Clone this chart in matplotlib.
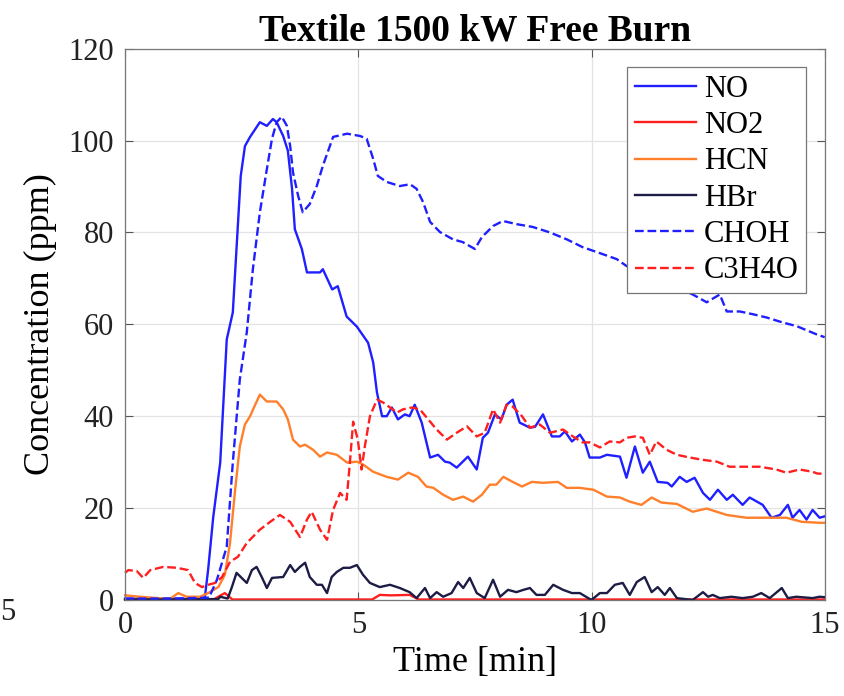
import matplotlib
matplotlib.use("Agg")
import matplotlib.pyplot as plt

plt.rcParams['font.family'] = ['Liberation Serif', 'DejaVu Serif']

# gas concentrations (ppm) vs time (min)
t_no = [0, 0.5, 1.0, 1.5, 1.71, 1.78, 1.89, 2.04, 2.18, 2.31, 2.48, 2.57, 2.68, 2.89, 3.04, 3.17, 3.25,
        3.39, 3.49, 3.58, 3.64, 3.79, 3.9, 4.18, 4.24, 4.44, 4.56, 4.75, 4.97, 5.21, 5.32, 5.4, 5.51,
        5.61, 5.72, 5.85, 6.0, 6.1, 6.21, 6.36, 6.54, 6.71, 6.86, 6.96, 7.11, 7.35, 7.54, 7.67, 7.78,
        7.93, 8.07, 8.18, 8.31, 8.46, 8.68, 8.79, 8.96, 9.15, 9.32, 9.43, 9.58, 9.75, 9.86, 9.96,
        10.18, 10.33, 10.61, 10.75, 10.93, 11.1, 11.25, 11.42, 11.63, 11.72, 11.89, 12.04, 12.21,
        12.39, 12.54, 12.71, 12.9, 13.03, 13.24, 13.39, 13.67, 13.86, 14.04, 14.21, 14.31, 14.46,
        14.61, 14.74, 14.89, 15.0]
no = [0.3, 0.2, 0.3, 0.2, 0.5, 6.5, 18.0, 29.9, 56.7, 62.6, 92.3, 98.8, 100.8, 104.0, 103.2, 104.7, 104.0,
      101.0, 97.8, 89.5, 80.7, 76.4, 71.3, 71.3, 72.0, 67.6, 68.3, 61.7, 59.5, 56.0, 51.7, 45.2, 40.0,
      40.0, 41.9, 39.3, 40.4, 40.0, 42.5, 38.6, 31.0, 31.6, 30.1, 29.9, 28.8, 31.2, 28.4, 35.3, 36.4,
      40.4, 39.3, 42.5, 43.6, 38.6, 37.5, 37.7, 40.4, 35.6, 35.6, 36.7, 34.5, 36.0, 34.3, 31.0,
      31.0, 31.6, 31.2, 26.6, 33.4, 27.7, 30.1, 25.7, 25.5, 24.7, 26.8, 25.7, 26.6,
      23.3, 21.8, 24.0, 21.8, 22.9, 20.7, 22.3, 20.7, 17.9, 18.5, 20.7, 17.9, 19.6,
      17.5, 19.6, 17.9, 18.2]

t_no2 = [0, 1.9, 2.05, 2.14, 2.3, 5.3, 5.46, 5.7, 6.1, 6.3, 15.0]
no2 = [0.1, 0.1, 1.0, 1.5, 0.1, 0.1, 1.1, 1.0, 1.1, 0.1, 0.1]

t_hcn = [0, 0.32, 0.96, 1.14, 1.32, 1.61, 1.78, 2.0, 2.14, 2.25, 2.36, 2.46, 2.57, 2.68, 2.79, 2.89,
         3.04, 3.25, 3.39, 3.49, 3.6, 3.75, 3.86, 4.03, 4.18, 4.33, 4.54, 4.76, 4.97, 5.1, 5.32, 5.61,
         5.85, 6.07, 6.28, 6.46, 6.61, 6.82, 7.03, 7.25, 7.46, 7.65, 7.82, 7.96, 8.11, 8.31, 8.51,
         8.72, 8.96, 9.28, 9.47, 9.75, 10.04, 10.33, 10.61, 10.82, 11.07, 11.29, 11.5, 11.83, 12.17,
         12.47, 12.9, 13.32, 13.82, 14.18, 14.51, 14.89, 15.0]
hcn = [1.0, 0.7, 0.2, 1.5, 0.7, 0.7, 1.5, 2.8, 5.5, 12.4, 24.0, 33.4, 38.2, 40.0, 42.5, 44.7,
       43.2, 43.2, 41.5, 39.3, 34.9, 33.4, 33.8, 32.7, 31.2, 32.1, 31.6, 29.9, 30.1, 29.5, 27.9, 26.8,
       26.2, 27.7, 26.8, 24.7, 24.4, 22.9, 21.8, 22.5, 21.4, 22.9, 25.1, 25.1, 26.8, 25.7, 24.7,
       25.7, 25.5, 25.7, 24.4, 24.4, 24.0, 22.5, 22.3, 21.4, 20.7, 22.3, 21.2, 20.9, 19.2,
       19.9, 18.5, 17.9, 17.9, 17.9, 17.0, 16.8, 16.8]

t_hbr = [0, 1.0, 2.0, 2.04, 2.2, 2.29, 2.39, 2.5, 2.61, 2.72, 2.82, 2.93, 3.04, 3.15, 3.39, 3.54,
         3.64, 3.75, 3.86, 3.96, 4.11, 4.22, 4.33, 4.43, 4.54, 4.68, 4.82, 4.97, 5.1, 5.25, 5.46,
         5.68, 5.89, 6.1, 6.25, 6.43, 6.54, 6.68, 6.82, 7.0, 7.14, 7.25, 7.39, 7.54, 7.71, 7.89,
         8.04, 8.21, 8.39, 8.54, 8.68, 8.82, 9.0, 9.18, 9.39, 9.58, 9.75, 9.93, 10.0, 10.18, 10.33,
         10.5, 10.67, 10.82, 10.97, 11.14, 11.29, 11.42, 11.57, 11.68, 11.83, 12.17, 12.39, 12.5,
         12.6, 12.75, 13.0, 13.24, 13.46, 13.64, 13.82, 14.08, 14.21, 14.39, 14.74, 14.89, 15.0]
hbr = [0.1, 0.1, 0.2, 0.7, 0.3, 2.8, 5.9, 4.8, 3.7, 6.5, 7.2, 5.0, 2.6, 4.8, 5.0, 7.6,
       6.1, 7.2, 8.1, 5.0, 3.3, 3.3, 1.5, 5.0, 6.1, 7.0, 7.0, 7.6, 5.5, 3.7, 2.8,
       3.3, 2.6, 1.7, 0.4, 2.6, 0.4, 1.7, 0.7, 1.5, 3.9, 2.6, 4.8, 1.5, 0.4, 4.4,
       0.7, 2.2, 1.7, 2.2, 2.6, 1.1, 1.1, 3.3, 2.2, 1.5, 1.5, 0.4, 0.0, 1.5, 1.5,
       3.3, 3.7, 1.1, 3.9, 5.0, 1.7, 2.8, 1.1, 2.6, 0.4, 0.0, 1.7, 0.7,
       1.1, 0.4, 0.7, 0.4, 0.7, 1.5, 0.4, 2.6, 0.4, 0.7, 0.4, 0.7, 0.6]

t_choh = [0, 1.0, 1.8, 1.97, 2.18, 2.31, 2.46, 2.61, 2.74, 2.89, 3.04, 3.15, 3.25, 3.36, 3.47, 3.54,
          3.6, 3.71, 3.81, 3.96, 4.11, 4.24, 4.46, 4.76, 5.04, 5.18, 5.32, 5.42, 5.61, 5.89, 6.11,
          6.25, 6.39, 6.54, 6.75, 7.03, 7.24, 7.5, 7.65, 7.89, 8.1, 8.4, 8.74, 9.11, 9.47, 9.81,
          10.18, 10.54, 10.75, 11.2, 11.7, 12.17, 12.47, 12.75, 12.9, 13.18, 13.46, 13.75, 14.1,
          14.4, 14.83, 15.0]
choh = [0.3, 0.3, 0.5, 4.4, 11.6, 29.9, 48.0, 58.3, 72.0, 84.4, 93.8, 100.4, 104.0, 105.2, 103.2, 98.8,
        93.1, 88.0, 84.4, 86.2, 90.1, 94.5, 100.8, 101.5, 101.0, 100.4, 96.0, 92.3, 91.0, 90.1, 90.5,
        89.5, 86.6, 82.3, 80.1, 78.5, 77.9, 76.4, 79.0, 81.4, 82.5, 81.8, 81.2, 80.0, 78.5, 76.8,
        75.5, 74.2, 72.7, 71.0, 68.5, 66.5, 64.8, 66.5, 62.8, 62.8, 62.2, 61.5, 60.4,
        59.6, 57.8, 57.2]

t_c3h4o = [0, 0.07, 0.25, 0.39, 0.54, 0.82, 1.11, 1.35, 1.5, 1.65, 1.78, 1.93, 2.08, 2.25, 2.42, 2.61,
           2.89, 3.11, 3.32, 3.54, 3.75, 3.9, 4.0, 4.18, 4.33, 4.46, 4.61, 4.75, 4.82, 4.89, 4.99,
           5.07, 5.14, 5.25, 5.4, 5.53, 5.68, 5.83, 5.96, 6.15, 6.32, 6.5, 6.68, 6.9, 7.11, 7.33,
           7.54, 7.71, 7.89, 8.04, 8.18, 8.31, 8.51, 8.68, 8.89, 9.11, 9.39, 9.6, 9.81, 9.96, 10.18,
           10.39, 10.61, 10.75, 10.93, 11.1, 11.25, 11.39, 11.61, 11.83, 12.11, 12.39, 12.69, 12.96,
           13.24, 13.61, 13.96, 14.18, 14.46, 14.74, 14.85, 15.0]
c3h4o = [5.9, 6.5, 6.3, 4.8, 6.5, 7.2, 7.0, 6.5, 3.7, 2.8, 3.3, 3.7, 5.0, 8.3, 9.4, 12.4,
         15.3, 17.0, 18.5, 17.0, 13.7, 17.5, 19.2, 15.3, 13.1, 19.6, 23.3, 21.8, 29.9, 38.8, 34.9,
         28.4, 33.4, 40.0, 43.6, 43.0, 41.9, 40.8, 41.5, 41.9, 41.5, 39.3, 37.1, 34.9, 36.4, 37.8,
         35.6, 36.4, 41.5, 38.6, 42.5, 42.1, 40.0, 37.5, 38.2, 36.4, 37.1, 35.6, 34.3, 34.3, 33.2,
         34.5, 34.3, 35.3, 35.6, 35.3, 31.6, 34.5, 32.7, 31.6, 31.0, 30.5, 30.1, 29.0,
         29.0, 29.0, 28.4, 27.7, 28.4, 27.9, 27.5, 27.5]

x_ticks = [0, 5, 10, 15]
y_ticks = [0, 20, 40, 60, 80, 100, 120]

fig = plt.figure(figsize=(8.45, 6.96), dpi=100)
ax = fig.add_axes([0.148, 0.138, 0.828, 0.792])

lw = 1.7
ax.plot(t_no, no, color='#1f1fff', lw=lw, label='NO', clip_on=False)
ax.plot(t_no2, no2, color='#ff1f1f', lw=lw, label='NO2', clip_on=False)
ax.plot(t_hcn, hcn, color='#ff7f2a', lw=lw, label='HCN', clip_on=False)
ax.plot(t_hbr, hbr, color='#1c1c45', lw=lw, label='HBr', clip_on=False)
ax.plot(t_choh, choh, color='#1f1fff', lw=lw, ls='--', label='CHOH', clip_on=False)
ax.plot(t_c3h4o, c3h4o, color='#ff1f1f', lw=lw, ls='--', label='C3H4O', clip_on=False)

ax.set_xlim(0, 15)
ax.set_ylim(0, 120)
ax.set_xticks(x_ticks)
ax.set_yticks(y_ticks)
ax.grid(True, color='#e3e3e3', lw=0.9)
ax.set_axisbelow(True)
ax.tick_params(direction='in', length=6, width=0.8, colors='#555555', labelcolor='#222222',
               labelsize=22, top=True, right=True, pad=8)
for sp in ax.spines.values():
    sp.set_color('#777777')
    sp.set_linewidth(0.9)

ax.set_title('Textile 1500 kW Free Burn', fontsize=27, fontweight='bold', pad=6)
ax.set_xlabel('Time [min]', fontsize=26, labelpad=4)
ax.set_ylabel('Concentration (ppm)', fontsize=26, labelpad=8)

leg = ax.legend(loc='upper right', fontsize=22, fancybox=False, framealpha=1,
                edgecolor='#777777', handlelength=2.0, handletextpad=0.25,
                borderpad=0.25, labelspacing=0.24, borderaxespad=0.6)
leg.get_frame().set_linewidth(0.9)
leg.set_zorder(5)

# tick label of the neighbouring panel at the left edge
fig.text(0.0, 1 - 612 / 696, '5', fontsize=22, ha='left', va='center', color='#222222')

fig.savefig('out.png', dpi=100)
